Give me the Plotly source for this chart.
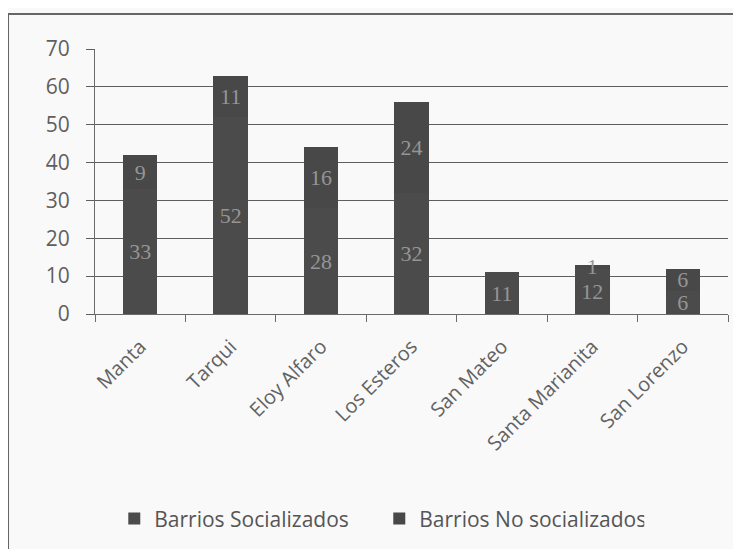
import plotly.graph_objects as go

categorias = ["Manta", "Tarqui", "Eloy Alfaro", "Los Esteros", "San Mateo", "Santa Marianita", "San Lorenzo"]
socializados = [33, 52, 28, 32, 11, 12, 6]
no_socializados = [9, 11, 16, 24, 0, 1, 6]
y_ticks = [0, 10, 20, 30, 40, 50, 60, 70]

def etiquetas(vals):
    return [str(v) if v else "" for v in vals]

label_font = dict(family="Liberation Serif", size=22, color="#959595")

fig = go.Figure()
fig.add_trace(go.Bar(
    name="Barrios Socializados", x=categorias, y=socializados,
    text=etiquetas(socializados), textposition="inside", insidetextanchor="middle",
    textangle=0, constraintext="none", textfont=label_font,
    marker=dict(color="#4b4b4b", line=dict(width=0)),
))
fig.add_trace(go.Bar(
    name="Barrios No socializados", x=categorias, y=no_socializados,
    text=etiquetas(no_socializados), textposition="inside", insidetextanchor="middle",
    textangle=0, constraintext="none", textfont=label_font,
    marker=dict(color="#484848", line=dict(width=0)),
))

fig.update_layout(
    barmode="stack",
    bargap=0.62,
    width=733, height=541,
    margin=dict(l=87, r=13, t=41, b=235),
    paper_bgcolor="#f9f9f9",
    plot_bgcolor="#f9f9f9",
    font=dict(family="Open Sans", color="#5a5a5a"),
    showlegend=True,
    legend=dict(orientation="h", xref="container", x=0.145, xanchor="left",
                yref="container", y=0.0555, yanchor="middle",
                font=dict(size=21, color="#555555"), itemwidth=30,
                entrywidth=220, entrywidthmode="pixels",
                bgcolor="rgba(0,0,0,0)", traceorder="normal"),
    xaxis=dict(
        type="category", showgrid=False, showline=True, linecolor="#6a6a6a", linewidth=1,
        ticks="outside", tickson="boundaries", ticklen=7, tickcolor="#6a6a6a",
        tickangle=-45, tickfont=dict(size=20, color="#626262"), ticklabelstandoff=12,
    ),
    yaxis=dict(
        range=[0, 70], tickvals=y_ticks, showgrid=True, gridcolor="#5e5e5e", gridwidth=1,
        showline=True, linecolor="#6a6a6a", linewidth=1, ticks="outside", ticklen=8,
        tickcolor="#5e5e5e", tickfont=dict(size=21, color="#5f5f5f"), zeroline=False,
        ticklabelstandoff=12,
    ),
    shapes=[dict(type="rect", xref="paper", yref="paper", x0=-0.1374, x1=1.05, y0=-0.95, y1=1.132,
                 line=dict(color="#666666", width=2), fillcolor="rgba(0,0,0,0)", layer="below")],
)

fig.write_html("out.html")
